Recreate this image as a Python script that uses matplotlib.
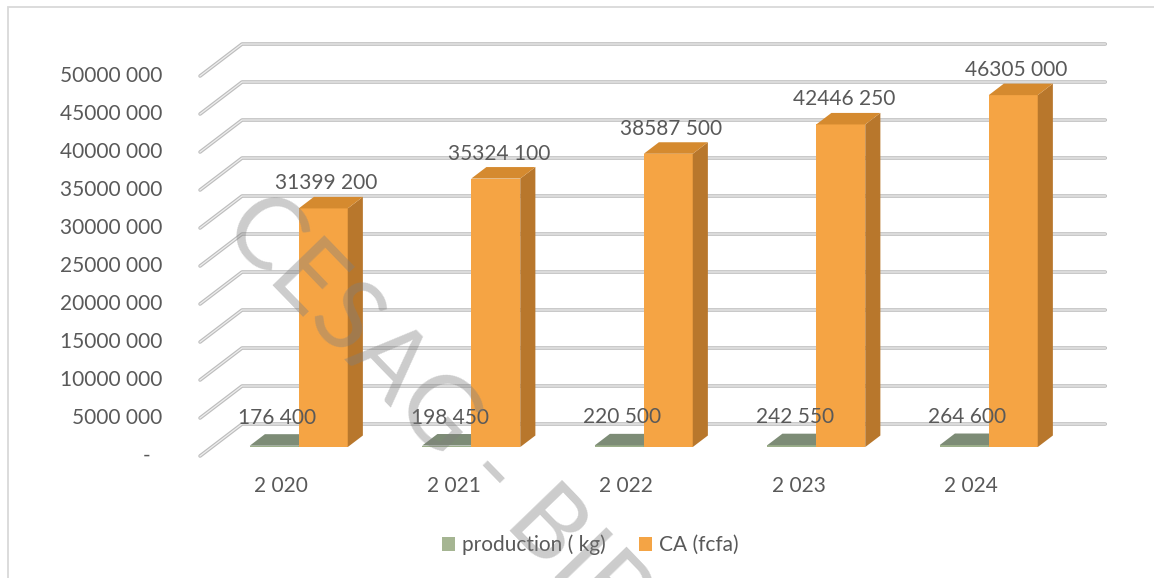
import matplotlib
matplotlib.use('Agg')
import matplotlib.pyplot as plt
from matplotlib.patches import Polygon, Patch, Rectangle

plt.rcParams['font.family'] = ['Lato', 'DejaVu Sans']

years = [2020, 2021, 2022, 2023, 2024]
production = [176400, 198450, 220500, 242550, 264600]
ca = [31399200, 35324100, 38587500, 42446250, 46305000]
y_ticks = list(range(0, 50_000_001, 5_000_000))
series_names = ['production ( kg)', 'CA (fcfa)']

# faces: front, side, top
green = ('#9caf8a', '#7f9170', '#7d8c76')
orange = ('#f5a444', '#b8772c', '#d58a2f')
text_col = '#595959'

# 3d look: depth offset of the back wall, in data units
DEPTH_X = 0.2435
DEPTH_Y = 4.21e6
BAR_W = 0.284
D0, D1 = 0.28, 0.64


def proj(c, v, d):
    return (c + d * DEPTH_X, v + d * DEPTH_Y)


def fmt(v):
    if v == 0:
        return '-'
    head, tail = divmod(int(v), 1000)
    return f'{head} {tail:03d}'


def box(ax, x0, x1, v, faces):
    front, side, top = faces
    ax.add_patch(Polygon([proj(x0, 0, D0), proj(x1, 0, D0), proj(x1, v, D0), proj(x0, v, D0)],
                         closed=True, fc=front, lw=0, zorder=3))
    ax.add_patch(Polygon([proj(x1, 0, D0), proj(x1, 0, D1), proj(x1, v, D1), proj(x1, v, D0)],
                         closed=True, fc=side, lw=0, zorder=3))
    ax.add_patch(Polygon([proj(x0, v, D0), proj(x1, v, D0), proj(x1, v, D1), proj(x0, v, D1)],
                         closed=True, fc=top, lw=0, zorder=3))


fig = plt.figure(figsize=(11.54, 5.78), dpi=100)
ax = fig.add_axes([0, 0, 1, 1])
ax.set_xlim(-287 / 172.5, (1154 - 287) / 172.5)
ax.set_ylim(-(578 - 456) / 7.6 * 1e6, 456 / 7.6 * 1e6)
ax.axis('off')

fig.patches.append(Rectangle((8 / 1154, -0.1), 1.2, 1 - 7 / 578 + 0.1, transform=fig.transFigure,
                             fill=False, ec='#d9d9d9', lw=1.3))

c_left, c_right = -0.504, 4.5
for v in y_ticks:
    a = proj(c_left, v, 0)
    b = proj(c_left, v, 1)
    e = proj(c_right, v, 1)
    xs, ys = [a[0], b[0], e[0]], [a[1], b[1], e[1]]
    ax.plot(xs, ys, color='#bdbdbd', lw=2.6, solid_capstyle='round', zorder=1)
    ax.plot(xs, ys, color='#eeeeee', lw=0.9, zorder=1)
    if v == 0:
        ax.annotate(fmt(v), a, xytext=(-53, 0), textcoords='offset pixels',
                    ha='center', va='center', fontsize=15, color=text_col)
    else:
        ax.annotate(fmt(v), a, xytext=(-38, 0), textcoords='offset pixels',
                    ha='right', va='center', fontsize=15, color=text_col)

for i, (yr, p, c) in enumerate(zip(years, production, ca)):
    box(ax, i - BAR_W, i, p, green)
    box(ax, i, i + BAR_W, c, orange)
    ax.annotate(fmt(p), proj(i - BAR_W / 2, p, D0), xytext=(3, 28), textcoords='offset pixels',
                ha='center', va='center', fontsize=15, color=text_col, zorder=5)
    ax.annotate(fmt(c), proj(i + BAR_W / 2, c, D0), xytext=(3, 25), textcoords='offset pixels',
                ha='center', va='center', fontsize=15, color=text_col, zorder=5)
    ax.annotate(fmt(yr), proj(i, 0, 0), xytext=(-6, -30), textcoords='offset pixels',
                ha='center', va='center', fontsize=15, color=text_col)

handles = [Patch(fc='#a5b592', label=series_names[0]), Patch(fc='#f4a445', label=series_names[1])]
ax.legend(handles=handles, loc='center', bbox_to_anchor=(590 / 1154, 1 - 545 / 578),
          bbox_transform=fig.transFigure, ncol=2, frameon=False, fontsize=15,
          handlelength=0.65, handleheight=0.65, handletextpad=0.3, columnspacing=1.6,
          labelcolor=text_col)

# library stamp across the plot
fig.text(219 / 1154, 1 - 230 / 578, 'CESAG - BIBLIOTHEQUE', rotation=-46, rotation_mode='anchor',
         ha='left', va='baseline', fontsize=72, color='#808080', alpha=0.4, zorder=10)

fig.savefig('out.png', dpi=100)
